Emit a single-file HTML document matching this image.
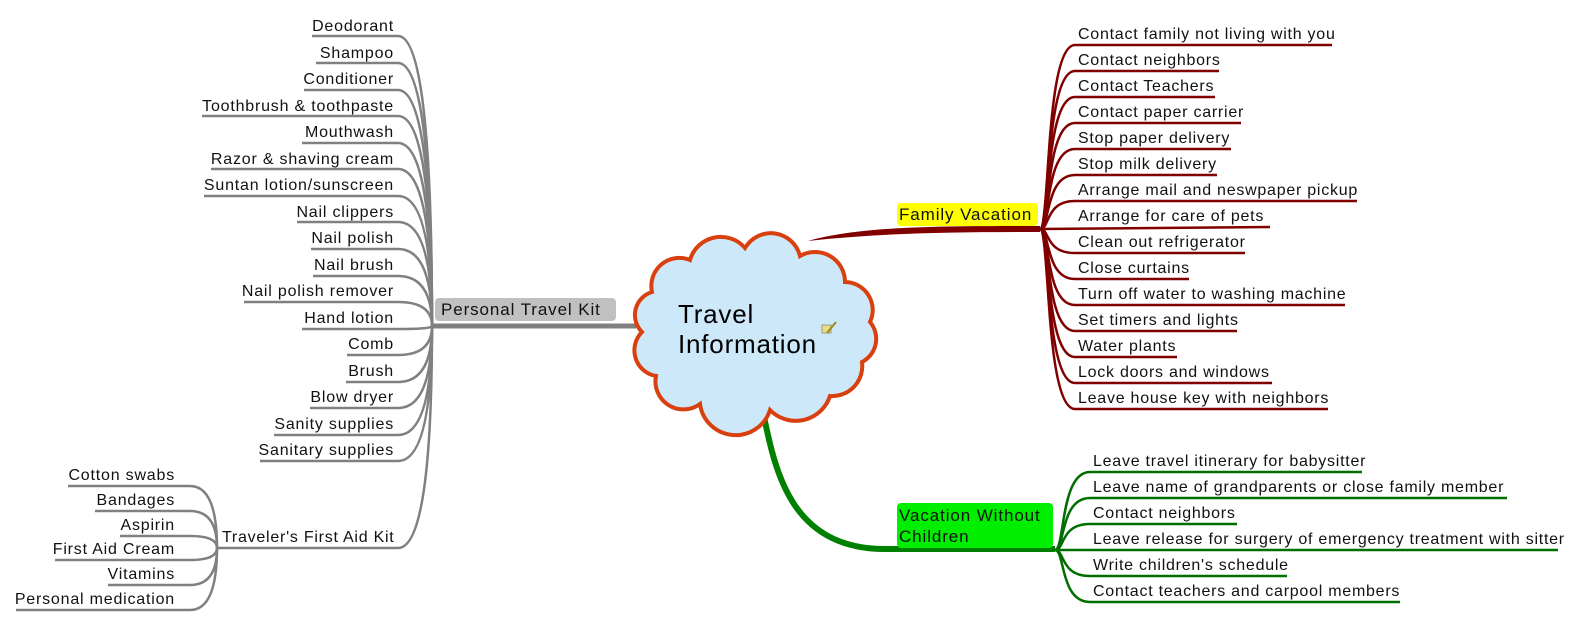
<!DOCTYPE html>
<html><head><meta charset="utf-8"><style>
html,body{margin:0;padding:0;background:#fff;}
svg{display:block;font-family:"Liberation Sans",Arial,sans-serif;}
.l{font-size:16px;fill:#111;text-anchor:end;letter-spacing:0.8px;}
.r{font-size:16px;fill:#111;letter-spacing:0.75px;}
.b{font-size:17px;fill:#111;letter-spacing:0.9px;}
</style></head><body>
<svg width="1586" height="624" viewBox="0 0 1586 624" xmlns="http://www.w3.org/2000/svg">
<g fill="none" stroke="#808080" stroke-width="2.5">
<path d="M312,36 L398,36 Q432,36 432,326"/>
<path d="M316,63 L398,63 Q432,63 432,326"/>
<path d="M304,90 L398,90 Q432,90 432,326"/>
<path d="M202,116 L398,116 Q432,116 432,326"/>
<path d="M302,143 L398,143 Q432,143 432,326"/>
<path d="M211,169 L398,169 Q432,169 432,326"/>
<path d="M204,196 L398,196 Q432,196 432,326"/>
<path d="M297,222 L398,222 Q432,222 432,326"/>
<path d="M311,249 L398,249 Q432,249 432,326"/>
<path d="M313,276 L398,276 Q432,276 432,326"/>
<path d="M244,302 L398,302 Q432,302 432,326"/>
<path d="M302,329 L398,329 Q432,329 432,326"/>
<path d="M347,355 L398,355 Q432,355 432,326"/>
<path d="M346,382 L398,382 Q432,382 432,326"/>
<path d="M310,408 L398,408 Q432,408 432,326"/>
<path d="M274,435 L398,435 Q432,435 432,326"/>
<path d="M260,461 L398,461 Q432,461 432,326"/>
<path d="M217,548 L398,548 Q432,548 432,326"/>
<path d="M68,486 L190,486 Q217,486 217,548"/>
<path d="M95,511 L190,511 Q217,511 217,548"/>
<path d="M120,536 L190,536 Q217,536 217,548"/>
<path d="M55,560 L190,560 Q217,560 217,548"/>
<path d="M108,585 L190,585 Q217,585 217,548"/>
<path d="M16,610 L190,610 Q217,610 217,548"/>
</g>
<g class="l">
<text x="394" y="31">Deodorant</text>
<text x="394" y="58">Shampoo</text>
<text x="394" y="84">Conditioner</text>
<text x="394" y="111">Toothbrush &amp; toothpaste</text>
<text x="394" y="137">Mouthwash</text>
<text x="394" y="164">Razor &amp; shaving cream</text>
<text x="394" y="190">Suntan lotion/sunscreen</text>
<text x="394" y="217">Nail clippers</text>
<text x="394" y="243">Nail polish</text>
<text x="394" y="270">Nail brush</text>
<text x="394" y="296">Nail polish remover</text>
<text x="394" y="323">Hand lotion</text>
<text x="394" y="349">Comb</text>
<text x="394" y="376">Brush</text>
<text x="394" y="402">Blow dryer</text>
<text x="394" y="429">Sanity supplies</text>
<text x="394" y="455">Sanitary supplies</text>
<text x="175" y="480">Cotton swabs</text>
<text x="175" y="505">Bandages</text>
<text x="175" y="530">Aspirin</text>
<text x="175" y="554">First Aid Cream</text>
<text x="175" y="579">Vitamins</text>
<text x="175" y="604">Personal medication</text>
</g>
<text x="222" y="542" class="r">Traveler's First Aid Kit</text>
<rect x="435" y="298" width="181" height="23" rx="4" fill="#c0c0c0"/>
<text x="441" y="315" class="b">Personal Travel Kit</text>
<line x1="432" y1="326" x2="636" y2="326" stroke="#808080" stroke-width="5"/>

<path d="M808,241 C860,226 940,226 1040,226 L1040,232 C950,232 880,233 808,241 Z" fill="#800000"/>
<g fill="none" stroke="#800000" stroke-width="2.5">
<path d="M1040,229 C1050,229 1045,45 1075,45 L1332,45"/>
<path d="M1040,229 C1050,229 1045,71 1075,71 L1219,71"/>
<path d="M1040,229 C1050,229 1045,97 1075,97 L1215,97"/>
<path d="M1040,229 C1050,229 1045,123 1075,123 L1241,123"/>
<path d="M1040,229 C1050,229 1045,149 1075,149 L1231,149"/>
<path d="M1040,229 C1050,229 1045,175 1075,175 L1217,175"/>
<path d="M1040,229 C1050,229 1045,201 1075,201 L1357,201"/>
<path d="M1040,229 L1270,227"/>
<path d="M1040,229 C1050,229 1045,253 1075,253 L1245,253"/>
<path d="M1040,229 C1050,229 1045,279 1075,279 L1189,279"/>
<path d="M1040,229 C1050,229 1045,305 1075,305 L1345,305"/>
<path d="M1040,229 C1050,229 1045,331 1075,331 L1237,331"/>
<path d="M1040,229 C1050,229 1045,357 1075,357 L1177,357"/>
<path d="M1040,229 C1050,229 1045,383 1075,383 L1272,383"/>
<path d="M1040,229 C1050,229 1045,409 1075,409 L1328,409"/>
</g>
<g class="r">
<text x="1078" y="39">Contact family not living with you</text>
<text x="1078" y="65">Contact neighbors</text>
<text x="1078" y="91">Contact Teachers</text>
<text x="1078" y="117">Contact paper carrier</text>
<text x="1078" y="143">Stop paper delivery</text>
<text x="1078" y="169">Stop milk delivery</text>
<text x="1078" y="195">Arrange mail and neswpaper pickup</text>
<text x="1078" y="221">Arrange for care of pets</text>
<text x="1078" y="247">Clean out refrigerator</text>
<text x="1078" y="273">Close curtains</text>
<text x="1078" y="299">Turn off water to washing machine</text>
<text x="1078" y="325">Set timers and lights</text>
<text x="1078" y="351">Water plants</text>
<text x="1078" y="377">Lock doors and windows</text>
<text x="1078" y="403">Leave house key with neighbors</text>
</g>
<rect x="897" y="203" width="141" height="23" rx="4" fill="#ffff00"/>
<text x="899" y="220" class="b">Family Vacation</text>

<path d="M763,412 C775,470 790,549 885,549 L1055,549" fill="none" stroke="#008000" stroke-width="6"/>
<g fill="none" stroke="#006f00" stroke-width="2.5">
<path d="M1055,550 C1065,550 1060,472 1090,472 L1362,472"/>
<path d="M1055,550 C1065,550 1060,498 1090,498 L1507,498"/>
<path d="M1055,550 C1065,550 1060,524 1090,524 L1237,524"/>
<path d="M1055,550 L1558,550"/>
<path d="M1055,550 C1065,550 1060,576 1090,576 L1287,576"/>
<path d="M1055,550 C1065,550 1060,602 1090,602 L1400,602"/>
</g>
<g class="r">
<text x="1093" y="466">Leave travel itinerary for babysitter</text>
<text x="1093" y="492">Leave name of grandparents  or close family member</text>
<text x="1093" y="518">Contact neighbors</text>
<text x="1093" y="544">Leave release for surgery of emergency treatment with sitter</text>
<text x="1093" y="570">Write children's schedule</text>
<text x="1093" y="596">Contact teachers and carpool members</text>
</g>
<rect x="897" y="503" width="156" height="45" rx="4" fill="#00ee00"/>
<text x="899" y="521" class="b">Vacation Without</text>
<text x="899" y="542" class="b">Children</text>

<path d="M652,292 A28,28 0 0 1 690,260 A32,32 0 0 1 745,248 A30,30 0 0 1 800,256 A30,30 0 0 1 845,282 A28,28 0 0 1 870,322 A26,26 0 0 1 862,362 A30,30 0 0 1 830,396 A36,36 0 0 1 770,410 A36,36 0 0 1 700,404 A28,28 0 0 1 656,376 A26,26 0 0 1 642,332 A24,24 0 0 1 652,292 Z" fill="#cde9f9" stroke="#d9400f" stroke-width="4"/>
<text x="678" y="323" style="font-size:26px;fill:#000;letter-spacing:0.8px">Travel</text>
<text x="678" y="353" style="font-size:26px;fill:#000;letter-spacing:0.8px">Information</text>
<rect x="822" y="325" width="9" height="8" fill="#e8e080" stroke="#888" stroke-width="0.8"/>
<path d="M827,333 L836,322" stroke="#9a8a20" stroke-width="2"/>
</svg>
</body></html>
